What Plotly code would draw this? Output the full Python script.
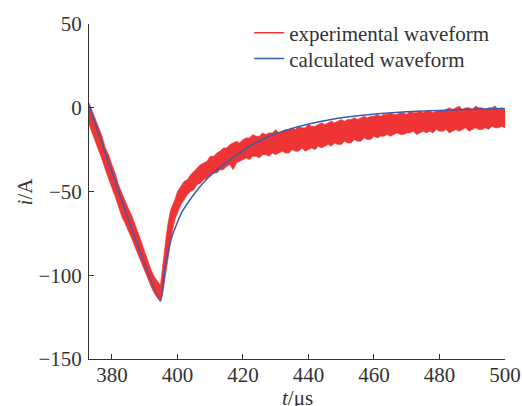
import plotly.graph_objects as go

RED = "#ee3434"
BLUE = "#3a5cb0"
FONT = "Liberation Serif, Times New Roman, serif"
TEXT = "#333333"

# experimental waveform, read as the upper and lower edge of the noisy band
exp_t = [373, 374, 375, 376, 377, 378, 379, 380, 381, 382, 383, 384, 385, 386, 387, 388,
         389, 390, 391, 392, 393, 394, 394.8, 395.4, 396, 396.6, 397.2, 397.8, 398.5, 399.2,
         400, 401, 402, 403, 404, 405, 406, 407, 408, 409, 410, 411, 412, 413, 414, 415,
         416, 417, 418, 419, 420,
         421, 422, 423, 424, 425, 426, 427, 428, 429, 430, 431, 432, 433, 434, 435, 436,
         437, 438, 439, 440, 441, 442, 443, 444, 445, 446, 447, 448, 449, 450, 451, 452,
         453, 454, 455, 456, 457, 458, 459, 460, 461, 462, 463, 464, 465, 466, 467, 468,
         469, 470, 471, 472, 473, 474, 475, 476, 477, 478, 479, 480, 481, 482, 483, 484,
         485, 486, 487, 488, 489, 490, 491, 492, 493, 494, 495, 496, 497, 498, 499, 500]
exp_upper = [3, -2, -7, -12, -17, -24, -28, -34, -39, -46, -51, -55, -60, -64, -69, -75,
             -80, -86, -92, -97, -101, -104, -106, -96, -84, -76, -68, -62, -58, -55,
             -50, -47, -44, -43, -40, -38, -36, -34, -33, -32, -29, -29, -27, -26, -24, -24,
             -22, -21, -20, -21, -19,
             -18, -18, -16, -17, -17, -15, -16, -15, -15, -13, -15, -14, -13, -13, -12, -13,
             -11, -12, -12, -10, -11, -11, -10, -9, -10, -9, -8, -9, -8, -7, -8, -7,
             -7, -6, -7, -6, -5, -6, -5, -5, -4, -5, -4, -4, -3, -4, -4, -3,
             -3, -4, -2, -3, -3, -2, -3, -2, -2, -3, -2, -2, -2, -1, 0, -1,
             0, 1, -1, 0, 0, -1, 1, 0, 0, -1, 0, 0, 1, -1, 0, -1]
exp_lower = [-10, -15, -21, -26, -31, -37, -43, -48, -53, -59, -65, -69, -73, -78, -83, -88,
             -93, -98, -103, -107, -111, -114, -116, -112, -104, -96, -88, -80, -73, -67,
             -63, -58, -55, -52, -50, -49, -46, -45, -43, -42, -40, -39, -39, -37, -37, -35,
             -34, -37, -33, -32, -31,
             -30, -31, -29, -29, -30, -28, -28, -29, -27, -28, -27, -26, -27, -27, -25, -26,
             -26, -24, -26, -25, -24, -25, -23, -24, -23, -22, -23, -21, -22, -22, -20, -21,
             -21, -19, -20, -20, -18, -19, -19, -17, -18, -17, -17, -16, -17, -16, -15, -16,
             -16, -15, -15, -14, -16, -15, -14, -15, -14, -15, -13, -14, -14, -13, -15, -14,
             -13, -14, -13, -12, -14, -13, -12, -13, -13, -12, -13, -11, -12, -12, -11, -12]

# calculated waveform
calc_t = [373, 394.8, 396.3, 398.3, 401.3, 405.4, 409.5, 413.5, 417.6, 421, 425, 429.3,
          434, 439.5, 444, 449.6, 455, 461, 470, 480, 490, 500]
calc_i = [1.5, -115, -94.5, -77, -62.6, -50.7, -41.5, -34.8, -28.9, -24.2, -19.8, -16,
          -12.9, -10, -8.1, -6.1, -4.8, -3.6, -2.4, -1.6, -0.9, -0.4]

fig = go.Figure()
fig.add_trace(go.Scatter(x=exp_t, y=exp_lower, mode="lines", line=dict(color=RED, width=0.6),
                         showlegend=False, hoverinfo="skip"))
fig.add_trace(go.Scatter(x=exp_t, y=exp_upper, mode="lines", line=dict(color=RED, width=0.6),
                         fill="tonexty", fillcolor=RED, showlegend=False, hoverinfo="skip"))
# legend entries, one legend per row so the rows sit close together like the original
fig.add_trace(go.Scatter(x=[None], y=[None], mode="lines", line=dict(color=RED, width=1.5),
                         name="experimental waveform", legend="legend"))
fig.add_trace(go.Scatter(x=calc_t, y=calc_i, mode="lines", line=dict(color=BLUE, width=1.5),
                         line_shape="spline", line_smoothing=0.5, name="calculated waveform",
                         legend="legend2"))

axis_style = dict(
    showline=True, linecolor=TEXT, linewidth=1,
    ticks="inside", ticklen=5, tickcolor=TEXT,
    showgrid=False, zeroline=False, automargin=False,
    tickfont=dict(family=FONT, size=21, color=TEXT),
)
fig.update_xaxes(range=[373, 500], tickvals=[380, 400, 420, 440, 460, 480, 500],
                 ticklabelstandoff=-3, **axis_style)
fig.update_yaxes(range=[-150, 50], tickvals=[-150, -100, -50, 0, 50],
                 ticklabelstandoff=2, **axis_style)

# axis titles as annotations (standoff is ignored once automargin is off)
title_font = dict(family=FONT, size=21, color=TEXT)
fig.add_annotation(text="<i>t</i>/μs", xref="paper", yref="paper", x=0.5, y=-0.116,
                   xanchor="center", yanchor="middle", showarrow=False, font=title_font)
fig.add_annotation(text="<i>i</i>/A", xref="paper", yref="paper", x=-0.154, y=0.5,
                   xanchor="center", yanchor="middle", textangle=-90, showarrow=False,
                   font=title_font)

legend_style = dict(xanchor="left", yanchor="middle", bgcolor="rgba(0,0,0,0)",
                    font=dict(family=FONT, size=21, color=TEXT))
fig.update_layout(
    width=522, height=406,
    margin=dict(l=89, r=17, t=24, b=47),
    plot_bgcolor="white", paper_bgcolor="white",
    font=dict(family=FONT, size=21, color=TEXT),
    legend=dict(x=0.385, y=0.973, **legend_style),
    legend2=dict(x=0.385, y=0.896, **legend_style),
)

# drop the default 8px page margin so the 522x406 figure fills the window
fig.write_html("out.html", config={"displayModeBar": False},
               post_script="document.body.style.margin='0';"
                           "document.documentElement.style.overflow='hidden';")
